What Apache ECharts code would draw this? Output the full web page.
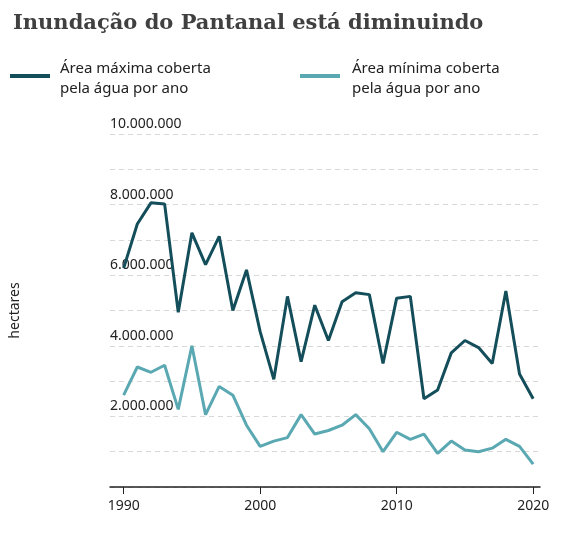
<!DOCTYPE html>
<html><head><meta charset="utf-8">
<script src="https://cdn.jsdelivr.net/npm/echarts@6/dist/echarts.min.js"></script>
<style>html,body{margin:0;padding:0;background:#fff}#c{width:580px;height:534px}</style>
</head><body><div id="c"></div>
<script>
const years = [1990,1991,1992,1993,1994,1995,1996,1997,1998,1999,2000,2001,2002,2003,2004,2005,2006,2007,2008,2009,2010,2011,2012,2013,2014,2015,2016,2017,2018,2019,2020];
const maxArea = [6.2,7.45,8.05,8.02,4.95,7.2,6.3,7.1,5.0,6.15,4.4,3.05,5.4,3.55,5.15,4.15,5.25,5.5,5.45,3.5,5.35,5.4,2.5,2.75,3.8,4.15,3.95,3.5,5.55,3.2,2.5];
const minArea = [2.6,3.4,3.25,3.45,2.2,4.0,2.05,2.85,2.6,1.75,1.15,1.3,1.4,2.05,1.5,1.6,1.75,2.05,1.65,1.0,1.55,1.35,1.5,0.95,1.3,1.05,1.0,1.1,1.35,1.15,0.65];
const xTicks = [1990,2000,2010,2020];
const nameMax = 'Área máxima coberta\npela água por ano';
const nameMin = 'Área mínima coberta\npela água por ano';
const cMax = '#134e5a', cMin = '#5aa8b2';
const toPairs = a => years.map((y,i)=>[y, a[i]*1e6]);
const fmt = v => String(Math.round(v)).replace(/\B(?=(\d{3})+(?!\d))/g,'.');
const chart = echarts.init(document.getElementById('c'));
const lt = {fontFamily:'Noto Sans',fontSize:15,fill:'#222',lineHeight:20};
chart.setOption({
  animation:false,
  title:{text:'Inundação do Pantanal está diminuindo',left:8,top:8,textStyle:{fontFamily:'DejaVu Serif',fontWeight:'bold',fontSize:21,color:'#404040'}},
  graphic:[
    {type:'line',shape:{x1:10,y1:76,x2:50,y2:76},style:{stroke:cMax,lineWidth:4}},
    {type:'text',left:60,top:59,style:Object.assign({text:nameMax},lt)},
    {type:'line',shape:{x1:300,y1:76,x2:340,y2:76},style:{stroke:cMin,lineWidth:4}},
    {type:'text',left:352,top:59,style:Object.assign({text:nameMin},lt)}
  ],
  grid:{left:107,right:40,top:134,bottom:47},
  xAxis:{type:'value',min:1989,max:2020.5,
    axisLine:{lineStyle:{color:'#222',width:1.5}},
    axisTick:{show:true,customValues:xTicks,length:7,lineStyle:{color:'#222'}},
    axisLabel:{customValues:xTicks,formatter:v=>String(v),color:'#222',fontFamily:'Noto Sans',fontSize:14,margin:12},
    splitLine:{show:false}},
  yAxis:{type:'value',min:0,max:10000000,interval:1000000,
    name:'hectares',nameLocation:'middle',nameGap:88,nameTextStyle:{fontFamily:'Noto Sans',fontSize:14,color:'#222'},
    axisLine:{show:false},axisTick:{show:false},
    axisLabel:{inside:true,verticalAlign:'bottom',margin:0,padding:[0,0,3,0],color:'#222',fontFamily:'Noto Sans',fontSize:14,
      formatter:v=> (v>0 && v%2000000===0)? fmt(v):''},
    splitLine:{lineStyle:{type:[5,4],color:'#d8d8d8'}}},
  series:[
    {name:nameMax,type:'line',data:toPairs(maxArea),symbol:'none',lineStyle:{width:3,color:cMax},itemStyle:{color:cMax}},
    {name:nameMin,type:'line',data:toPairs(minArea),symbol:'none',lineStyle:{width:3,color:cMin},itemStyle:{color:cMin}}
  ]
});
</script></body></html>
